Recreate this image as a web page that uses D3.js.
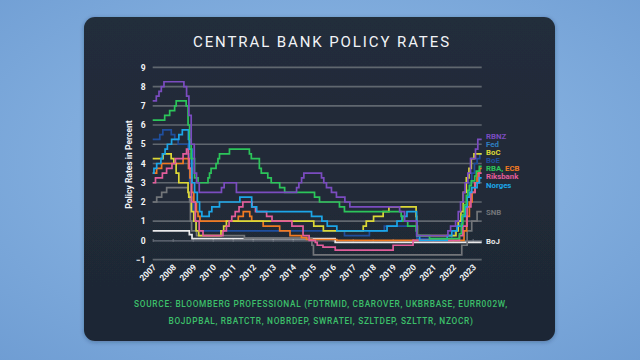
<!DOCTYPE html>
<html><head><meta charset="utf-8">
<script src="https://cdn.jsdelivr.net/npm/d3@7"></script>
<style>
html,body{margin:0;padding:0;width:640px;height:360px;overflow:hidden;}
svg{display:block;}
</style></head>
<body>
<svg id="chart" width="640" height="360"></svg>
<script>
// ---------- DATA ----------
const title = "CENTRAL BANK POLICY RATES";
const yAxisTitle = "Policy Rates in Percent";
const yTickValues = [-1, 0, 1, 2, 3, 4, 5, 6, 7, 8, 9];
const yearTicks = [2007,2008,2009,2010,2011,2012,2013,2014,2015,2016,2017,2018,2019,2020,2021,2022,2023];
const sourceLines = [
  "SOURCE: BLOOMBERG PROFESSIONAL (FDTRMID, CBAROVER, UKBRBASE, EURR002W,",
  "BOJDPBAL, RBATCTR, NOBRDEP, SWRATEI, SZLTDEP, SZLTTR, NZOCR)"
];
const startDate = "2007-01-01";
const endDate = "2023-06-15";

const rbnz = [["2007-01-01",7.25],["2007-03-08",7.5],["2007-04-26",7.75],["2007-06-07",8.0],["2007-07-26",8.25],["2008-07-24",8.0],["2008-09-11",7.5],["2008-10-23",6.5],["2008-12-04",5.0],["2009-01-29",3.5],["2009-03-12",3.0],["2009-04-30",2.5],["2010-06-10",2.75],["2010-07-29",3.0],["2011-03-10",2.5],["2014-03-13",2.75],["2014-04-24",3.0],["2014-06-12",3.25],["2014-07-24",3.5],["2015-06-11",3.25],["2015-07-23",3.0],["2015-09-10",2.75],["2015-12-10",2.5],["2016-03-10",2.25],["2016-08-11",2.0],["2016-11-10",1.75],["2019-05-08",1.5],["2019-08-07",1.0],["2020-03-16",0.25],["2021-10-06",0.5],["2021-11-24",0.75],["2022-02-23",1.0],["2022-04-13",1.5],["2022-05-25",2.0],["2022-07-13",2.5],["2022-08-17",3.0],["2022-10-05",3.5],["2022-11-23",4.25],["2023-02-22",4.75],["2023-04-05",5.25]];

const rba = [["2007-01-01",6.25],["2007-08-08",6.5],["2007-11-07",6.75],["2008-02-06",7.0],["2008-03-05",7.25],["2008-09-03",7.0],["2008-10-08",6.0],["2008-11-05",5.25],["2008-12-03",4.25],["2009-02-04",3.25],["2009-04-08",3.0],["2009-10-07",3.25],["2009-11-04",3.5],["2009-12-02",3.75],["2010-03-03",4.0],["2010-04-07",4.25],["2010-05-05",4.5],["2010-11-03",4.75],["2011-11-02",4.5],["2011-12-07",4.25],["2012-05-02",3.75],["2012-06-06",3.5],["2012-10-03",3.25],["2012-12-05",3.0],["2013-05-08",2.75],["2013-08-07",2.5],["2015-02-04",2.25],["2015-05-06",2.0],["2016-05-04",1.75],["2016-08-03",1.5],["2019-06-05",1.25],["2019-07-03",1.0],["2019-10-02",0.75],["2020-03-04",0.5],["2020-03-20",0.25],["2020-11-04",0.1],["2022-05-04",0.35],["2022-06-08",0.85],["2022-07-06",1.35],["2022-08-03",1.85],["2022-09-07",2.35],["2022-10-05",2.6],["2022-11-02",2.85],["2022-12-07",3.1],["2023-02-08",3.35],["2023-03-08",3.6],["2023-05-03",3.85]];

const ecb = [["2007-01-01",3.5],["2007-03-14",3.75],["2007-06-13",4.0],["2008-07-09",4.25],["2008-10-15",3.75],["2008-11-12",3.25],["2008-12-10",2.5],["2009-01-21",2.0],["2009-03-11",1.5],["2009-04-08",1.25],["2009-05-13",1.0],["2011-04-13",1.25],["2011-07-13",1.5],["2011-11-09",1.25],["2011-12-14",1.0],["2012-07-11",0.75],["2013-05-08",0.5],["2013-11-13",0.25],["2014-06-11",0.15],["2014-09-10",0.05],["2016-03-16",0.0],["2022-07-27",0.5],["2022-09-14",1.25],["2022-11-02",2.0],["2022-12-21",2.5],["2023-02-08",3.0],["2023-03-22",3.5],["2023-05-10",3.75]];

const riksbank = [["2007-01-01",3.0],["2007-02-21",3.25],["2007-06-27",3.5],["2007-09-12",3.75],["2007-12-19",4.0],["2008-02-20",4.25],["2008-07-09",4.5],["2008-09-10",4.75],["2008-10-15",4.25],["2008-10-29",3.75],["2008-12-10",2.0],["2009-02-18",1.0],["2009-04-29",0.5],["2009-07-08",0.25],["2010-07-07",0.5],["2010-09-08",0.75],["2010-10-27",1.0],["2010-12-15",1.25],["2011-02-16",1.5],["2011-04-27",1.75],["2011-07-06",2.0],["2011-12-21",1.75],["2012-02-22",1.5],["2012-09-12",1.25],["2012-12-19",1.0],["2013-12-18",0.75],["2014-07-09",0.25],["2014-10-29",0.0],["2015-02-18",-0.1],["2015-03-25",-0.25],["2015-07-08",-0.35],["2016-02-17",-0.5],["2019-01-09",-0.25],["2020-01-08",0.0],["2022-05-04",0.25],["2022-07-06",0.75],["2022-09-21",1.75],["2022-11-30",2.5],["2023-02-15",3.0],["2023-04-26",3.5]];

const norges = [["2007-01-01",3.5],["2007-01-24",3.75],["2007-03-15",4.0],["2007-05-31",4.25],["2007-06-27",4.5],["2007-08-15",4.75],["2007-09-26",5.0],["2007-12-12",5.25],["2008-04-23",5.5],["2008-06-25",5.75],["2008-10-15",5.25],["2008-10-29",4.75],["2008-12-17",3.0],["2009-02-04",2.5],["2009-03-25",2.0],["2009-05-06",1.5],["2009-06-17",1.25],["2009-10-28",1.5],["2009-12-16",1.75],["2010-05-05",2.0],["2011-05-12",2.25],["2011-12-14",1.75],["2012-03-14",1.5],["2014-12-11",1.25],["2015-06-18",1.0],["2015-09-24",0.75],["2016-03-17",0.5],["2018-09-20",0.75],["2019-03-21",1.0],["2019-06-20",1.25],["2019-09-19",1.5],["2020-03-13",1.0],["2020-03-20",0.25],["2020-05-07",0.0],["2021-09-23",0.25],["2021-12-16",0.5],["2022-03-24",0.75],["2022-06-23",1.25],["2022-08-18",1.75],["2022-09-22",2.25],["2022-11-03",2.5],["2022-12-15",2.75],["2023-03-23",3.0],["2023-05-04",3.25]];

const boc = [["2007-01-01",4.25],["2007-07-10",4.5],["2007-12-04",4.25],["2008-01-22",4.0],["2008-03-04",3.5],["2008-04-22",3.0],["2008-10-08",2.5],["2008-10-21",2.25],["2008-12-09",1.5],["2009-01-20",1.0],["2009-03-03",0.5],["2009-04-21",0.25],["2010-06-01",0.5],["2010-07-20",0.75],["2010-09-08",1.0],["2015-01-21",0.75],["2015-07-15",0.5],["2017-07-12",0.75],["2017-09-06",1.0],["2018-01-17",1.25],["2018-07-11",1.5],["2018-10-24",1.75],["2020-03-04",1.25],["2020-03-13",0.75],["2020-03-27",0.25],["2022-03-02",0.5],["2022-04-13",1.0],["2022-06-01",1.5],["2022-07-13",2.5],["2022-09-07",3.25],["2022-10-26",3.75],["2022-12-07",4.25],["2023-01-25",4.5]];

const boe = [["2007-01-01",5.25],["2007-05-10",5.5],["2007-07-05",5.75],["2007-12-06",5.5],["2008-02-07",5.25],["2008-04-10",5.0],["2008-10-08",4.5],["2008-11-06",3.0],["2008-12-04",2.0],["2009-01-08",1.5],["2009-02-05",1.0],["2009-03-05",0.5],["2016-08-04",0.25],["2017-11-02",0.5],["2018-08-02",0.75],["2020-03-11",0.25],["2020-03-19",0.1],["2021-12-16",0.25],["2022-02-03",0.5],["2022-03-17",0.75],["2022-05-05",1.0],["2022-06-16",1.25],["2022-08-04",1.75],["2022-09-22",2.25],["2022-11-03",3.0],["2022-12-15",3.5],["2023-02-02",4.0],["2023-03-23",4.25],["2023-05-11",4.5]];

const snb = [["2007-01-01",2.0],["2007-03-15",2.25],["2007-06-14",2.5],["2007-09-13",2.75],["2008-10-08",2.5],["2008-11-06",2.0],["2008-11-20",1.0],["2008-12-11",0.5],["2009-03-12",0.25],["2011-08-03",0.125],["2014-12-18",-0.25],["2015-01-15",-0.75],["2022-06-16",-0.25],["2022-09-22",0.5],["2022-12-15",1.0],["2023-03-23",1.5]];

const boj = [["2007-01-01",0.5],["2008-10-31",0.3],["2008-12-19",0.1],["2016-02-16",-0.1]];

// draw order (bottom to top)
const seriesNames = ["BoJ","SNB","BoE","ECB","BoC","Riksbank","Norges","RBA","RBNZ"];
const seriesValues = [boj, snb, boe, ecb, boc, riksbank, norges, rba, rbnz];
const seriesColors = ["#e9e9ea","#727579","#1f4f9e","#f07a22","#dcd836","#e35d9b","#1ca6e8","#2cc55a","#7b4cc0"];

// label texts (Fed label present in the source legend)
const labelTexts = ["RBNZ","Fed","BoC","BoE","RBA,|ECB","Riksbank","Norges","SNB","BoJ"];
const labelColors = ["#7b4cc0","#2f7fc0","#dcd836","#1f4f9e","#2cc55a|#f07a22","#e35d9b","#1ca6e8","#727579","#e9e9ea"];

// ---------- LAYOUT ----------
const W = 640, H = 360;
const card = {x: 84, y: 17, w: 471, h: 324, r: 11};
const plot = {left: 152.7, right: 481.7, top: 67.3, bottom: 259.7};
const labelY = [136.0, 144.1, 152.2, 160.3, 168.6, 176.7, 184.8, 212.3, 241.7];

const svg = d3.select("#chart");
const defs = svg.append("defs");
const bg = defs.append("radialGradient").attr("id","bg").attr("cx","50%").attr("cy","45%").attr("r","75%");
bg.append("stop").attr("offset","0%").attr("stop-color","#93bde8");
bg.append("stop").attr("offset","100%").attr("stop-color","#6f9dd3");
const cg = defs.append("linearGradient").attr("id","card").attr("x1","0").attr("y1","0").attr("x2","0").attr("y2","1");
cg.append("stop").attr("offset","0%").attr("stop-color","#232d3b");
cg.append("stop").attr("offset","100%").attr("stop-color","#1e2734");
const sh = defs.append("filter").attr("id","sh").attr("x","-10%").attr("y","-10%").attr("width","120%").attr("height","120%");
sh.append("feDropShadow").attr("dx",0).attr("dy",1).attr("stdDeviation",2).attr("flood-color","#1a2a40").attr("flood-opacity",0.35);

svg.append("rect").attr("width",W).attr("height",H).attr("fill","url(#bg)");
svg.append("rect").attr("x",card.x).attr("y",card.y).attr("width",card.w).attr("height",card.h)
  .attr("rx",card.r).attr("fill","url(#card)").attr("filter","url(#sh)");

svg.append("text").attr("x",322).attr("y",47).attr("text-anchor","middle")
  .attr("fill","#f2f4f7").attr("font-family","Roboto, 'Open Sans', sans-serif")
  .attr("font-size",15).attr("letter-spacing","1.9px").text(title);

const parse = d3.timeParse("%Y-%m-%d");
const x = d3.scaleTime().domain([parse(startDate), parse(endDate)]).range([plot.left, plot.right]);
const y = d3.scaleLinear().domain([-1, 9]).range([plot.bottom, plot.top]);

// gridlines
svg.append("g").selectAll("line").data(yTickValues.filter(v => v !== 0)).join("line")
  .attr("x1",plot.left).attr("x2",plot.right)
  .attr("y1",d=>y(d)).attr("y2",d=>y(d))
  .attr("stroke","#60676f").attr("stroke-width",1.7);

// zero axis with ticks
const xAxis = d3.axisBottom(x)
  .tickValues(yearTicks.map(yr => new Date(yr,0,1)))
  .tickSize(3).tickSizeOuter(0).tickFormat("");
const gx = svg.append("g").attr("transform",`translate(0,${y(0)})`).call(xAxis);
gx.select(".domain").attr("stroke","#6a717c").attr("stroke-width",1.2);
gx.selectAll(".tick line").attr("stroke","#6a717c").attr("transform","translate(0,-1.5)");

// y tick labels
const yAxis = d3.axisLeft(y).tickValues(yTickValues).tickSize(0).tickPadding(0).tickFormat(d3.format("d"));
const gy = svg.append("g").attr("transform",`translate(${plot.left-7},0)`).call(yAxis);
gy.select(".domain").remove();
gy.selectAll("text").attr("fill","#f2f4f7").attr("font-family","Roboto, sans-serif")
  .attr("font-weight",700).attr("font-size",8.5);

// year labels
svg.append("g").selectAll("text").data(yearTicks).join("text")
  .attr("transform",d=>`translate(${x(new Date(d,0,1))+2},${plot.bottom+6}) rotate(-45)`)
  .attr("text-anchor","end").attr("dy","0.35em")
  .attr("fill","#f2f4f7").attr("font-family","Roboto, sans-serif")
  .attr("font-weight",700).attr("font-size",8.5).text(d=>d);

// y axis title
svg.append("text").attr("transform",`translate(129,${(plot.top+plot.bottom)/2+1}) rotate(-90)`)
  .attr("text-anchor","middle").attr("dy","0.35em")
  .attr("fill","#f2f4f7").attr("font-family","Roboto, sans-serif")
  .attr("font-weight",700).attr("font-size",8.5).text(yAxisTitle);

// series lines
const line = d3.line().x(d=>x(d[0])).y(d=>y(d[1])).curve(d3.curveStepAfter);
seriesValues.forEach((vals,i) => {
  const pts = vals.map(d => [parse(d[0]), d[1]]);
  pts.push([parse(endDate), vals[vals.length-1][1]]);
  svg.append("path").datum(pts).attr("d",line).attr("fill","none")
    .attr("stroke",seriesColors[i]).attr("stroke-width",1.7)
    .attr("stroke-linejoin","miter").attr("class","series-"+seriesNames[i]);
});

// end labels
const lg = svg.append("g");
labelTexts.forEach((t,i) => {
  const parts = t.split("|"), cols = labelColors[i].split("|");
  const tx = lg.append("text").attr("x",486).attr("y",labelY[i]).attr("dy","0.35em")
    .attr("font-family","Roboto, sans-serif").attr("font-weight",700).attr("font-size",7.8);
  parts.forEach((p,k) => tx.append("tspan").attr("fill",cols[k]).text((k>0?" ":"")+p));
});

// source
svg.append("g").selectAll("text").data(sourceLines).join("text")
  .attr("x",321).attr("y",(d,i)=>304+i*17).attr("dy","0.35em").attr("text-anchor","middle")
  .attr("fill","#3cc06a").attr("font-family","Roboto, sans-serif").attr("font-weight",500)
  .attr("font-size",8.3).attr("letter-spacing","0.7px").text(d=>d);
</script>
</body></html>
